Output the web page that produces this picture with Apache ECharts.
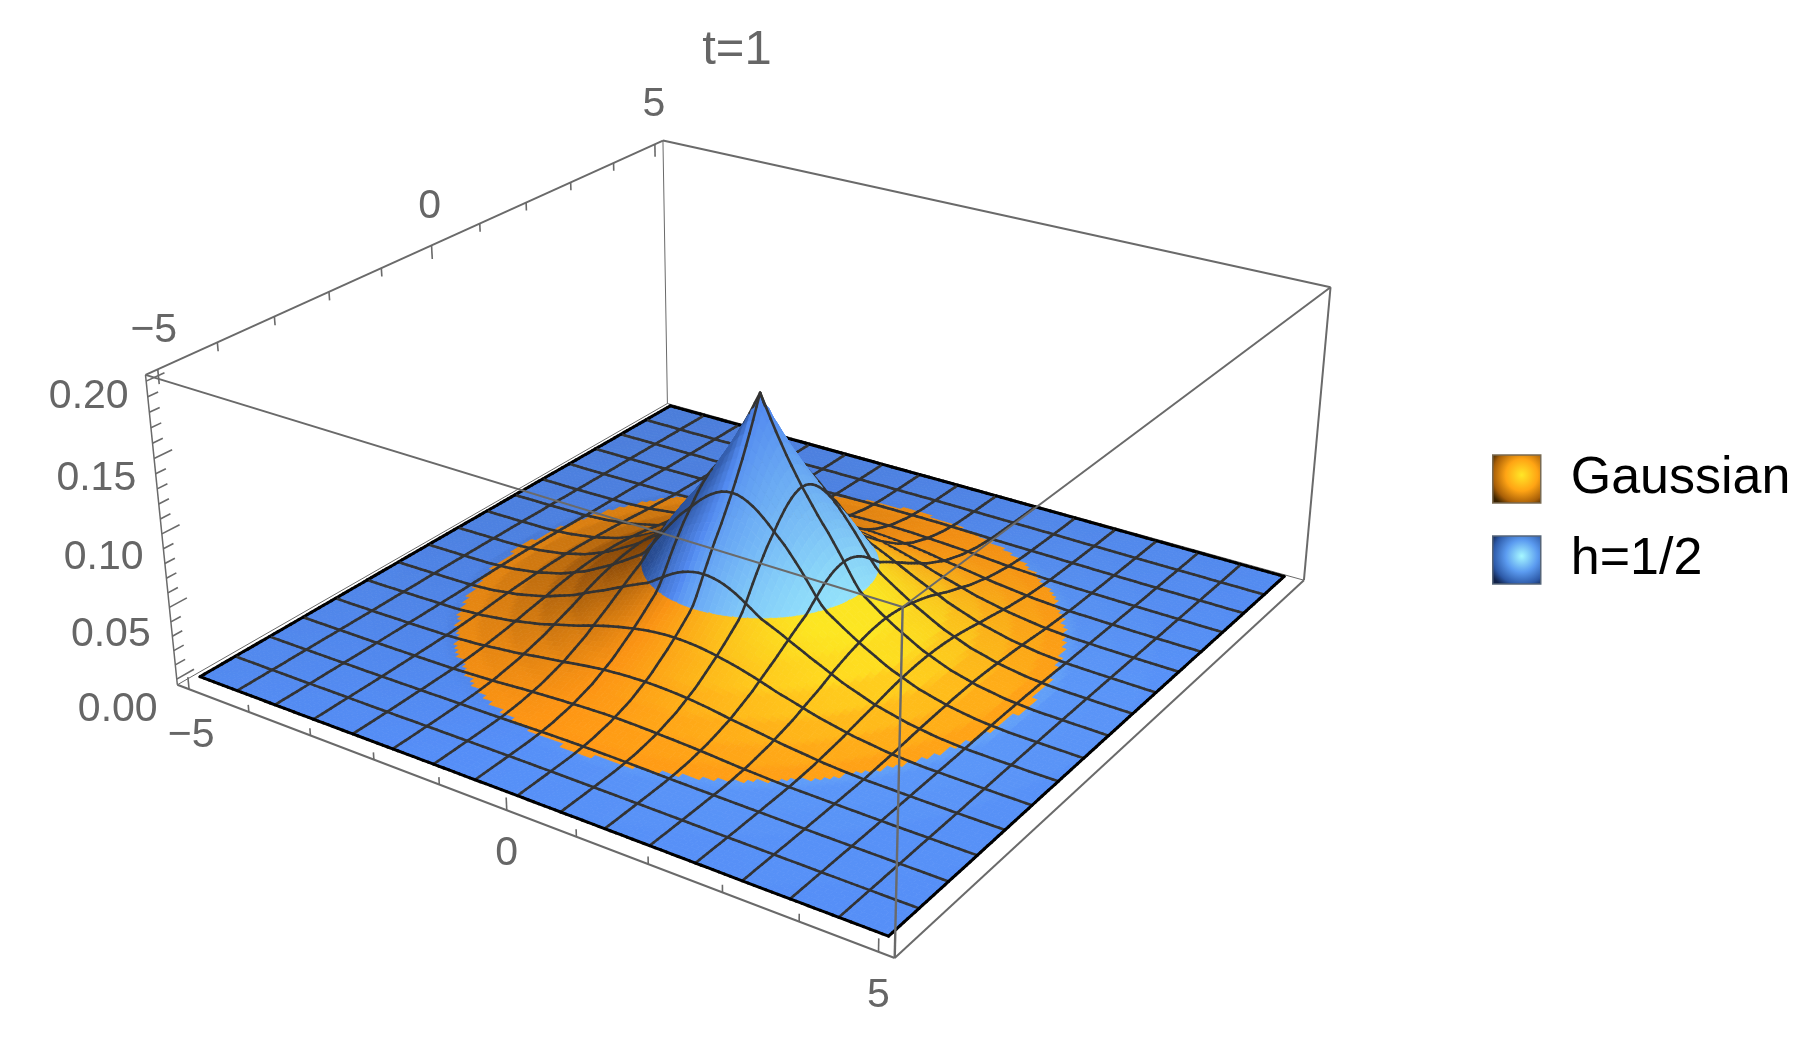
<!DOCTYPE html>
<html><head><meta charset="utf-8">
<style>html,body{margin:0;padding:0;background:#fff}#c{width:1818px;height:1055px}</style>
<script src="https://cdn.jsdelivr.net/npm/echarts@6/dist/echarts.min.js"></script>
</head><body><div id="c"></div>
<script>
// ---- values ----
const radii    = [0,.1,.2,.3,.4,.5,.6,.7,.8,.9,1,1.2,1.4,1.6,1.8,2,2.4,2.8,3.2,3.6,4,4.5,5,6,7.1];
const hHeights = [.162,.152,.142,.133,.124,.116,.108,.101,.094,.087,.081,.067,.052,.039,.028,.020,.010,.0055,.0033,.0029,.00155,.0010,.0006,.0003,.0002];
const gaussianHeights = [.0796,.0794,.0788,.0778,.0764,.0747,.0727,.0703,.0677,.0649,.0620,.0556,.0488,.0420,.0354,.0293,.0188,.0112,.0062,.0031,.00146,.0005,.00015,.00001,0];
const xTicks = [-5,-4,-3,-2,-1,0,1,2,3,4,5];
const yTicks = [-5,-4,-3,-2,-1,0,1,2,3,4,5];
const zTicks = [0,.01,.02,.03,.04,.05,.06,.07,.08,.09,.10,.11,.12,.13,.14,.15,.16,.17,.18,.19,.20];
const xLabels = ['−5','0','5'];
const yLabels = ['−5','0','5'];
const zLabels = ['0.00','0.05','0.10','0.15','0.20'];
const seriesNames = ['Gaussian','h=1/2'];
const titleText = 't=1';

// ---- view set-up (camera calibrated on the bounding box corners) ----
const PAD=5.2, ZMIN=-0.004, ZMAX=0.204;
const calib=[
 [-1,-1, 1,145.2,375.7],[-1, 1, 1,663.5,140],[ 1, 1, 1,1330.3,287.5],[ 1,-1, 1,902.5,606.5],
 [-1,-1,-1,177.5,684],[-1, 1,-1,667,404],[ 1, 1,-1,1304,580],[ 1,-1,-1,895,958.5]];
function solveCamera(){
  const A=[],b=[];
  calib.forEach(([X,Y,Z,u,v])=>{
    A.push([X,Y,Z,1,0,0,0,0,-u*X,-u*Y,-u*Z]);b.push(u);
    A.push([0,0,0,0,X,Y,Z,1,-v*X,-v*Y,-v*Z]);b.push(v);
  });
  const n=11,M=[];
  for(let r=0;r<n;r++){M.push([]);for(let c=0;c<n;c++){let s=0;A.forEach(a=>s+=a[r]*a[c]);M[r].push(s);}
    let s=0;A.forEach((a,k)=>s+=a[r]*b[k]);M[r].push(s);}
  for(let c=0;c<n;c++){let p=c;for(let r=c+1;r<n;r++)if(Math.abs(M[r][c])>Math.abs(M[p][c]))p=r;
    [M[c],M[p]]=[M[p],M[c]];
    for(let r=0;r<n;r++){if(r===c)continue;const f=M[r][c]/M[c][c];for(let k=c;k<=n;k++)M[r][k]-=f*M[c][k];}}
  return M.map((R,i)=>R[n]/R[i]);
}
const P=solveCamera();
const nx=x=>x/PAD, nz=z=>(z-(ZMIN+ZMAX)/2)/((ZMAX-ZMIN)/2);
function wOf(x,y,z){return P[8]*nx(x)+P[9]*nx(y)+P[10]*nz(z)+1;}
function project(x,y,z){const X=nx(x),Y=nx(y),Z=nz(z),w=P[8]*X+P[9]*Y+P[10]*Z+1;
  return [(P[0]*X+P[1]*Y+P[2]*Z+P[3])/w,(P[4]*X+P[5]*Y+P[6]*Z+P[7])/w];}
const wNear=wOf(5,-5,0), wFar=wOf(-5,5,0);
const depthRank=(x,y)=>(wFar-wOf(x,y,0))/(wFar-wNear)*1000;

// ---- surface lookup ----
function profile(arr,r){let k=1;while(k<radii.length-1&&radii[k]<r)k++;
  const a=radii[k-1],b=radii[k];return arr[k-1]+(arr[k]-arr[k-1])*Math.min(1,(r-a)/(b-a));}
const hAt=(x,y)=>profile(hHeights,Math.hypot(x,y));
const gAt=(x,y)=>profile(gaussianHeights,Math.hypot(x,y));
const topAt=(x,y)=>Math.max(hAt(x,y),gAt(x,y));
const gap=(x,y)=>gAt(x,y)-hAt(x,y);

const K=8,N=16*K,STEP=10/N;
const X=i=>-5+i*STEP;
const corners=(i,j)=>[[X(i),X(j)],[X(i+1),X(j)],[X(i+1),X(j+1)],[X(i),X(j+1)]];
const gaussianCells=[],hCells=[];
for(let i=0;i<N;i++)for(let j=0;j<N;j++){
  const cx=X(i)+STEP/2,cy=X(j)+STEP/2,pos=gap(cx,cy)>0;
  const inner=Math.hypot(cx,cy)<2.5;
  const c=corners(i,j).map(q=>gap(q[0],q[1])>0);
  if(pos||(inner&&c.some(v=>v))) gaussianCells.push([i,j,pos?1:0]);
  if(!pos||(inner&&c.some(v=>!v))) hCells.push([i,j,pos?0:1]);
}
// keeps the part of a cell on one side of the line where the two surfaces cross
function clipCell(q,sign){
  const out=[];
  for(let n=0;n<4;n++){
    const a=q[n],b=q[(n+1)%4],da=gap(a[0],a[1])*sign,db=gap(b[0],b[1])*sign;
    if(da>=0) out.push(a);
    if((da>=0)!==(db>=0)){const t=da/(da-db);out.push([a[0]+(b[0]-a[0])*t,a[1]+(b[1]-a[1])*t]);}
  }
  return out;
}
const mix=(a,b,t)=>a.map((v,n)=>v+(b[n]-v)*t);
const clamp=(v,a,b)=>Math.max(a,Math.min(b,v));
function shade(key,fn,i,j){
  const x0=X(i),x1=X(i+1),y0=X(j),y1=X(j+1);
  const a=fn(x0,y0),b=fn(x1,y0),c=fn(x1,y1),d=fn(x0,y1);
  const zx=(b+c-a-d)/(2*STEP)*20, zy=(c+d-a-b)/(2*STEP)*20;
  const L=Math.sqrt(1+zx*zx+zy*zy),zm=(a+b+c+d)/4;
  let col;
  if(key==='g'){
    const s=clamp((-zx/L*.97+zy/L*.22)/.52,-1,1);
    col=s>=0?mix([255,150,20],[255,232,34],s):mix([255,150,20],[130,68,8],-s);
  }else{
    const s=(-zx/L*.98+zy/L*.2)/.9;
    col=s>=0?mix([85,142,247],[165,250,255],Math.pow(Math.min(1,s),.7)*clamp(1.25-1.3*zm/.16,0,1))
            :mix([85,142,247],[30,62,125],Math.min(1,-s*1.9)*clamp(1-.6*zm/.16,0,1));
  }
  const f=Math.min(1,.97+.09*(x0-y0)/10);
  return 'rgb('+col.map(v=>Math.round(v*f)).join(',')+')';
}
function seg(api,x0,y0,x1,y1,z2,stroke,lw){
  const a=api.coord(project(x0,y0,topAt(x0,y0))),b=api.coord(project(x1,y1,topAt(x1,y1)));
  return {type:'line',z2,shape:{x1:a[0],y1:a[1],x2:b[0],y2:b[1]},style:{stroke,lineWidth:lw,lineCap:'round'}};
}
function makeCell(key,fn,sign){
  return function(params,api){
    const i=api.value(0),j=api.value(1),own=api.value(2),x0=X(i),x1=X(i+1),y0=X(j),y1=X(j+1);
    const z2=depthRank((x0+x1)/2,(y0+y1)/2),col=shade(key,fn,i,j);
    const q=corners(i,j),mixed=Math.hypot(x0+STEP/2,y0+STEP/2)<2.5;
    const poly=mixed?clipCell(q,sign):q;
    const ch=[];
    if(poly.length>2) ch.push({type:'polygon',z2,shape:{points:poly.map(p=>api.coord(project(p[0],p[1],topAt(p[0],p[1]))))},style:{fill:col,stroke:col,lineWidth:.8}});
    if(own){
      const M='#333',E='#000',up=z2+12;
      if(i%K===0) ch.push(seg(api,x0,y0,x0,y1,up,i===0?E:M,i===0?3:2.6));
      if(j%K===0) ch.push(seg(api,x0,y0,x1,y0,up,j===0?E:M,j===0?3:2.6));
      if(i===N-1) ch.push(seg(api,x1,y0,x1,y1,up,E,3));
      if(j===N-1) ch.push(seg(api,x0,y1,x1,y1,up,E,3));
    }
    return {type:'group',children:ch};
  };
}
// bounding box edges as pairs of corner signs
const S=PAD,T=ZMAX,B=ZMIN;
const boxEdges=[
 [-S,S,B,-S,S,T,0,1],[-S,-S,B,-S,S,B,0,1],[-S,S,B,S,S,B,0,1],[-S,S,T,-S,-S,T,0,2],[-S,S,T,S,S,T,0,2],
 [-S,-S,B,-S,-S,T,0,1.5],[S,S,B,S,S,T,0,2],
 [-S,-S,B,S,-S,B,1,2],[S,-S,B,S,S,B,1,2],[-S,-S,T,S,-S,T,1,2],[S,-S,T,S,S,T,1,2],[S,-S,B,S,-S,T,1,2.4]];
const GREY='#6a6a6a';
const tickRows=[];
xTicks.forEach(v=>tickRows.push(['x',v]));
yTicks.forEach(v=>tickRows.push(['y',v]));
zTicks.forEach(v=>tickRows.push(['z',v]));
const labelRows=[
 ...xLabels.map((t,n)=>[t,xTicks[[0,5,10][n]],'x']),
 ...yLabels.map((t,n)=>[t,yTicks[[0,5,10][n]],'y']),
 ...zLabels.map((t,n)=>[t,zTicks[n*5],'z'])];
const labelOffset={x:(v)=>v===-5?[2,46]:v===0?[0,43]:[0,44],
  y:(v)=>v===-5?[-4,-39]:v===0?[-2,-39]:[-1,-40],
  z:(v)=>[-59+8*v,31-75*v]};

const option={
 animation:false,
 backgroundColor:'#fff',
 title:{text:titleText,left:732,top:21,textAlign:'center',textStyle:{color:'#666',fontSize:49,fontWeight:'normal',fontFamily:'Liberation Sans'}},
 legend:{orient:'vertical',left:1487,top:448,itemWidth:48,itemHeight:48,itemGap:29,selectedMode:false,
   textStyle:{fontSize:52,color:'#000',fontFamily:'Liberation Sans',padding:[0,0,0,25]},
   data:[
    {name:seriesNames[0],icon:'rect',itemStyle:{borderColor:'#7a6a50',borderWidth:1.5,color:{type:'radial',x:.6,y:.42,r:.72,colorStops:[{offset:0,color:'#ffe727'},{offset:.45,color:'#ffa414'},{offset:.8,color:'#a85f08'},{offset:1,color:'#3a2200'}]}}},
    {name:seriesNames[1],icon:'rect',itemStyle:{borderColor:'#55657a',borderWidth:1.5,color:{type:'radial',x:.6,y:.42,r:.72,colorStops:[{offset:0,color:'#a6f8ff'},{offset:.45,color:'#5b9bf0'},{offset:.8,color:'#2d5aa8'},{offset:1,color:'#10224a'}]}}}
   ]},
 grid:{left:0,right:0,top:0,bottom:0,containLabel:false},
 xAxis:{type:'value',min:0,max:1818,show:false},
 yAxis:{type:'value',min:0,max:1055,inverse:true,show:false},
 series:[
  {name:seriesNames[0],type:'custom',coordinateSystem:'cartesian2d',silent:true,clip:false,z:2,itemStyle:{color:'#ff9614'},data:gaussianCells,encode:{x:0,y:1},renderItem:makeCell('g',gAt,1),progressive:0},
  {name:seriesNames[1],type:'custom',coordinateSystem:'cartesian2d',silent:true,clip:false,z:2,itemStyle:{color:'#558cf5'},data:hCells,encode:{x:0,y:1},renderItem:makeCell('h',hAt,-1),progressive:0},
  {name:'box',type:'custom',silent:true,clip:false,z:2,data:boxEdges.map((e,n)=>[n,0]),encode:{x:0,y:1},progressive:0,
   renderItem(p,api){const e=boxEdges[api.value(0)],a=api.coord(project(e[0],e[1],e[2])),b=api.coord(project(e[3],e[4],e[5]));
     return {type:'line',z2:e[6]?3000:-10,shape:{x1:a[0],y1:a[1],x2:b[0],y2:b[1]},style:{stroke:GREY,lineWidth:e[7]}};}},
  {name:'ticks',type:'custom',silent:true,clip:false,z:2,data:tickRows.map((e,n)=>[n,0]),encode:{x:0,y:1},progressive:0,
   renderItem(p,api){const [ax,v]=tickRows[api.value(0)];let a,b;
     if(ax==='x'){const l=v%5===0?.0085:.005;a=project(v,-S,B);b=project(v,-S,B+l);}
     else if(ax==='y'){const l=v%5===0?.0095:.0058;a=project(-S,v,T);b=project(-S,v,T-l);}
     else{const l=Math.round(v*100)%5===0?.3:.17;a=project(-S,-S,v);b=project(-S,-S+l,v);}
     a=api.coord(a);b=api.coord(b);
     return {type:'line',z2:-10,shape:{x1:a[0],y1:a[1],x2:b[0],y2:b[1]},style:{stroke:GREY,lineWidth:1.6}};}},
  {name:'tickLabels',type:'custom',silent:true,clip:false,z:2,data:labelRows.map((e,n)=>[n,0]),encode:{x:0,y:1},progressive:0,
   renderItem(p,api){const [t,v,ax]=labelRows[api.value(0)];
     const q=ax==='x'?project(v,-S,B):ax==='y'?project(-S,v,T):project(-S,-S,v);
     const o=labelOffset[ax](v),c=api.coord(q);
     return {type:'text',z2:3100,style:{text:t,x:c[0]+o[0],y:c[1]+o[1],fill:'#666',fontSize:41,fontFamily:'Liberation Sans',align:'center',verticalAlign:'middle'}};}}
 ]
};
const chart=echarts.init(document.getElementById('c'),null,{renderer:'canvas',width:1818,height:1055});
chart.setOption(option);
</script></body></html>
